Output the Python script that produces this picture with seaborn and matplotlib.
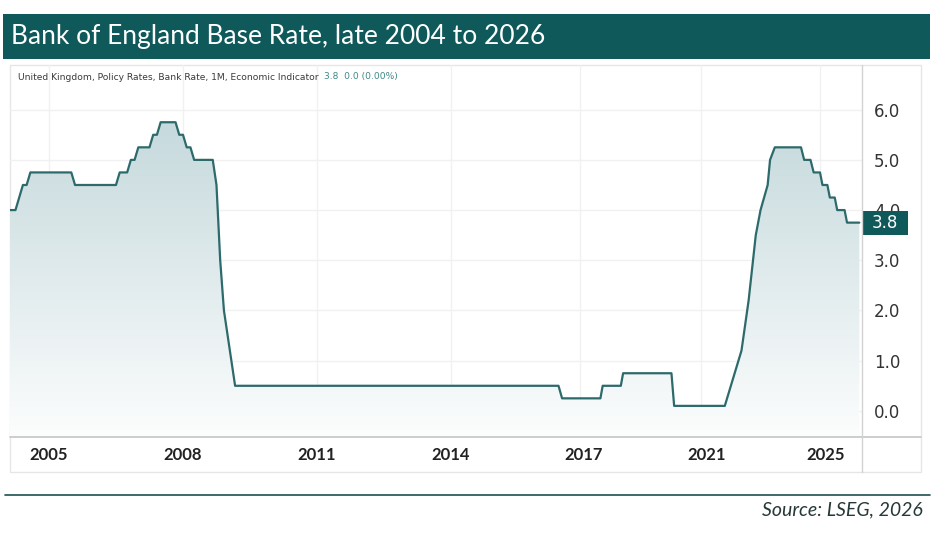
import numpy as np
import pandas as pd
import matplotlib
matplotlib.use("Agg")
import matplotlib.pyplot as plt
import matplotlib.transforms as mtransforms
from matplotlib.patches import Rectangle
from matplotlib.lines import Line2D
import seaborn as sns

# ---------------- data (monthly Bank Rate, vertices of the line) ----------------
months = ["2004-02", "2004-04", "2004-05", "2004-06", "2004-07", "2004-08",
          "2005-07", "2005-08", "2006-07", "2006-08", "2006-10", "2006-11",
          "2006-12", "2007-01", "2007-04", "2007-05", "2007-06", "2007-07",
          "2007-11", "2007-12", "2008-01", "2008-02", "2008-03", "2008-04",
          "2008-09", "2008-10", "2008-11", "2008-12", "2009-01", "2009-02",
          "2009-03", "2016-07", "2016-08", "2017-10", "2017-11", "2018-07",
          "2018-08", "2020-02", "2020-03", "2021-11", "2022-06", "2022-09",
          "2022-12", "2023-02", "2023-05", "2023-06", "2023-08", "2024-07",
          "2024-08", "2024-10", "2024-11", "2025-01", "2025-02", "2025-04",
          "2025-05", "2025-07", "2025-08", "2025-11", "2025-12", "2026-05"]
rates = [4.00, 4.00, 4.25, 4.50, 4.50, 4.75,
         4.75, 4.50, 4.50, 4.75, 4.75, 5.00,
         5.00, 5.25, 5.25, 5.50, 5.50, 5.75,
         5.75, 5.50, 5.50, 5.25, 5.25, 5.00,
         5.00, 4.50, 3.00, 2.00, 1.50, 1.00,
         0.50, 0.50, 0.25, 0.25, 0.50, 0.50,
         0.75, 0.75, 0.10, 0.10, 1.20, 2.20,
         3.50, 4.00, 4.50, 5.00, 5.25, 5.25,
         5.00, 5.00, 4.75, 4.75, 4.50, 4.50,
         4.25, 4.25, 4.00, 4.00, 3.75, 3.75]
tick_years = [2005, 2008, 2011, 2014, 2017, 2021, 2025]
tick_labels = ["2005", "2008", "2011", "2014", "2017", "2021", "2025"]
y_ticks = [0, 1, 2, 3, 4, 5, 6]
title = "Bank of England Base Rate, late 2004 to 2026"
series_name = "United Kingdom, Policy Rates, Bank Rate, 1M, Economic Indicator"
source = "Source: LSEG, 2026"

# ---------------- layout / style ----------------
W, H = 937, 538
TEAL = "#0f595b"
LINE = "#2d6a6b"
# the source chart's time axis is not uniform: anchor points (year -> pixel)
warp_years = [2004.0, 2014.0, 2017.0, 2018.58, 2021.0, 2024.5, 2025.0, 2027.0]
warp_px = [4.3, 451.0, 580.0, 623.0, 701.0, 801.0, 820.0, 879.0]
label_shift_px = [0, 0, 0, 0, 4, 6, 6]


def fwd(v):
    return np.interp(v, warp_years, warp_px)


def inv(p):
    return np.interp(p, warp_px, warp_years)


def fx(px):
    return px / W


def fy(py):
    return 1 - py / H


sns.set_style("white")
plt.rcParams["font.family"] = ["Lato", "DejaVu Sans"]

df = pd.DataFrame({"month": pd.to_datetime(months), "rate": rates})
df["year"] = df["month"].dt.year + (df["month"].dt.month - 1) / 12.0

fig = plt.figure(figsize=(W / 100, H / 100), dpi=100)
fig.patch.set_facecolor("white")

# title bar
fig.patches.append(Rectangle((fx(3), fy(59)), fx(930) - fx(3), fy(14) - fy(59),
                             transform=fig.transFigure, facecolor=TEAL,
                             edgecolor="none", zorder=-2))
fig.text(fx(11), fy(37), title, color="white", fontsize=19, ha="left",
         va="center", family=["Lato", "DejaVu Sans"])

# chart frame
fig.patches.append(Rectangle((fx(10), fy(472)), fx(921) - fx(10), fy(65) - fy(472),
                             transform=fig.transFigure, facecolor="white",
                             edgecolor="#e6e6e6", lw=1, zorder=-2))

ax = fig.add_axes([fx(10), fy(437), fx(862) - fx(10), fy(65) - fy(437)])
ax.set_facecolor("none")
ax.set_xscale("function", functions=(fwd, inv))
y_lo, y_hi = -0.52, 6.89
ax.set_xlim(inv(10), inv(862))
ax.set_ylim(y_lo, y_hi)
ax.set_autoscale_on(False)

sns.lineplot(data=df, x="year", y="rate", ax=ax, color=LINE, linewidth=1.6,
             estimator=None, sort=False, zorder=4)

# gradient area under the line
poly = ax.fill_between(df["year"], df["rate"], y_lo, facecolor="none",
                       edgecolor="none")
top = np.array([188, 211, 215]) / 255
bot = np.array([252, 253, 253]) / 255
t = np.linspace(1, 0, 256)[:, None]
grad = (bot + (top - bot) * t)[:, None, :]
img = ax.imshow(grad, extent=(0, 1, 0, 1), transform=ax.transAxes,
                aspect="auto", zorder=2, interpolation="bilinear")
img.set_clip_path(poly.get_paths()[0], transform=ax.transData)
ax.set_xlim(inv(10), inv(862))
ax.set_ylim(y_lo, y_hi)

# grid, ticks
ax.set_axisbelow(True)
ax.grid(True, color="#f1f1f1", lw=1)
for s in ax.spines.values():
    s.set_visible(False)
ax.set_xticks(tick_years)
ax.set_xticklabels(tick_labels)
ax.set_yticks(y_ticks)
ax.set_yticklabels([f"{v:.1f}" for v in y_ticks])
ax.yaxis.tick_right()
ax.tick_params(axis="x", length=0, pad=7.5, labelsize=12, labelcolor="#222222")
ax.tick_params(axis="y", length=0, pad=8.6, labelsize=12, labelcolor="#333333")
for lab, sh in zip(ax.get_xticklabels(), label_shift_px):
    lab.set_fontweight("bold")
    lab.set_family(["Lato", "DejaVu Sans"])
    if sh:
        lab.set_transform(lab.get_transform() +
                          mtransforms.ScaledTranslation(sh / 100, 0,
                                                        fig.dpi_scale_trans))
for lab in ax.get_yticklabels():
    lab.set_family(["DejaVu Sans"])
ax.set_xlabel("")
ax.set_ylabel("")

# axis lines (extend over the label band)
fig.lines.append(Line2D([fx(10), fx(921)], [fy(437), fy(437)],
                        transform=fig.transFigure, color="#c9c9c9", lw=1.3))
fig.lines.append(Line2D([fx(862), fx(862)], [fy(65), fy(472)],
                        transform=fig.transFigure, color="#d2d2d2", lw=1.0))

# last value badge
last = df["rate"].iloc[-1]
blend = mtransforms.blended_transform_factory(ax.transAxes, ax.transData)
box_w = 46 / (862 - 10)
box_h = 24 / ((437 - 65) / (y_hi - y_lo))
ax.add_patch(Rectangle((1.0, last - box_h / 2), box_w, box_h, transform=blend,
                       facecolor=TEAL, edgecolor="none", clip_on=False, zorder=6))
ax.text(1.0 + box_w / 2, last, f"{last:.1f}", transform=blend, ha="center",
        va="center", color="white", fontsize=12, zorder=7, clip_on=False,
        family=["DejaVu Sans"])

# series caption
t1 = fig.text(fx(18), fy(77), series_name, fontsize=6.6, color="#3a3a3a",
              ha="left", va="center", family=["DejaVu Sans"])
change = 0.0
ax.annotate(f"{last:.1f}  {change:.1f} ({change:.2f}%)", xy=(1, 0.5),
            xycoords=t1, xytext=(4, 0), textcoords="offset points",
            fontsize=6.6, color="#3f8888", ha="left", va="center",
            family=["DejaVu Sans"], annotation_clip=False)

# footer
fig.lines.append(Line2D([fx(5), fx(930)], [fy(495), fy(495)],
                        transform=fig.transFigure, color="#1e4f52", lw=1.2))
fig.text(fx(923), fy(510), source, fontsize=14, style="italic",
         color="#263838", ha="right", va="center", family=["Lato", "DejaVu Sans"])

fig.savefig("out.png", dpi=100, facecolor="white")
